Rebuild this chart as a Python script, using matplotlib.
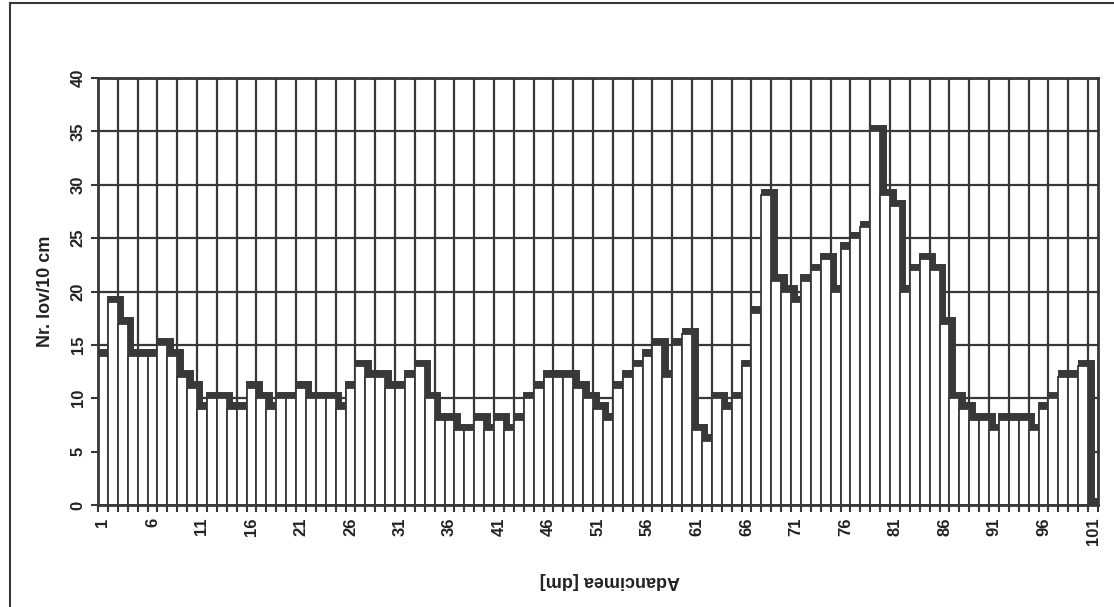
import numpy as np
import matplotlib.pyplot as plt
from matplotlib.lines import Line2D

# depth classes (dm) and number of layers per 10 cm
depth = np.arange(1, 102)
layers = [14, 19, 17, 14, 14, 14, 15, 14, 12, 11,
          9, 10, 10, 9, 9, 11, 10, 9, 10, 10,
          11, 10, 10, 10, 9, 11, 13, 12, 12, 11,
          11, 12, 13, 10, 8, 8, 7, 7, 8, 7,
          8, 7, 8, 10, 11, 12, 12, 12, 11, 10,
          9, 8, 11, 12, 13, 14, 15, 12, 15, 16,
          7, 6, 10, 9, 10, 13, 18, 29, 21, 20,
          19, 21, 22, 23, 20, 24, 25, 26, 35, 29,
          28, 20, 22, 23, 22, 17, 10, 9, 8, 8,
          7, 8, 8, 8, 7, 9, 10, 12, 12, 13,
          0]
label_ticks = list(range(1, 102, 5))
y_ticks = list(range(0, 41, 5))

dark = '#383838'
txt = '#222222'
plt.rcParams['font.family'] = ['Liberation Sans', 'DejaVu Sans']

fig = plt.figure(figsize=(11.14, 6.07), dpi=100)
ax = fig.add_axes([98 / 1114, 102 / 607, 1000 / 1114, 427 / 607])

vals = np.array(layers, dtype=float)
edges = np.arange(0.5, len(depth) + 1.0, 1.0)

# grid: horizontal every 5, vertical every second category boundary
for yv in y_ticks:
    ax.axhline(yv, color=dark, lw=1.6, zorder=0.5)
for xv in edges[::2]:
    ax.axvline(xv, color=dark, lw=1.6, zorder=0.5)

# dark "shadow" outline on top of the columns
ax.stairs(vals + 0.33, edges + 0.25, baseline=0, color=dark, lw=5.0, zorder=1)

ax.bar(depth, vals, width=1.0, color='white', edgecolor=dark, linewidth=1.3, zorder=2)

ax.set_xlim(0.5, 101.5)
ax.set_ylim(0, 40)

ax.set_xticks(label_ticks)
ax.set_xticklabels([str(t) for t in label_ticks], rotation=90, fontsize=12,
                   fontweight='bold', color=txt)
ax.set_xticks(edges, minor=True)
ax.tick_params(axis='x', which='major', length=0, pad=9)
ax.tick_params(axis='x', which='minor', length=5, width=1.5, color=dark, direction='out')

ax.set_yticks(y_ticks)
ax.set_yticklabels([str(t) for t in y_ticks], rotation=90, va='center', fontsize=12,
                   fontweight='bold', color=txt)
ax.tick_params(axis='y', length=5, width=1.5, color=dark, pad=4)

for sp in ax.spines.values():
    sp.set_color(dark)
    sp.set_linewidth(2.0)
    sp.set_zorder(3)

ax.set_ylabel('Nr. lov/10 cm', fontsize=13, fontweight='bold', color=txt, labelpad=12)
fig.text(610 / 1114, 1 - 580 / 607, 'Adancimea [dm]', rotation=180, ha='center', va='center',
         fontsize=13, fontweight='bold', color=txt)

# scan frame
fig.add_artist(Line2D([10 / 1114, 10 / 1114], [0, 1 - 3 / 607], color=dark, lw=1.5))
fig.add_artist(Line2D([10 / 1114, 1], [1 - 3 / 607, 1 - 3 / 607], color=dark, lw=1.5))

fig.savefig('out.png', dpi=100)
